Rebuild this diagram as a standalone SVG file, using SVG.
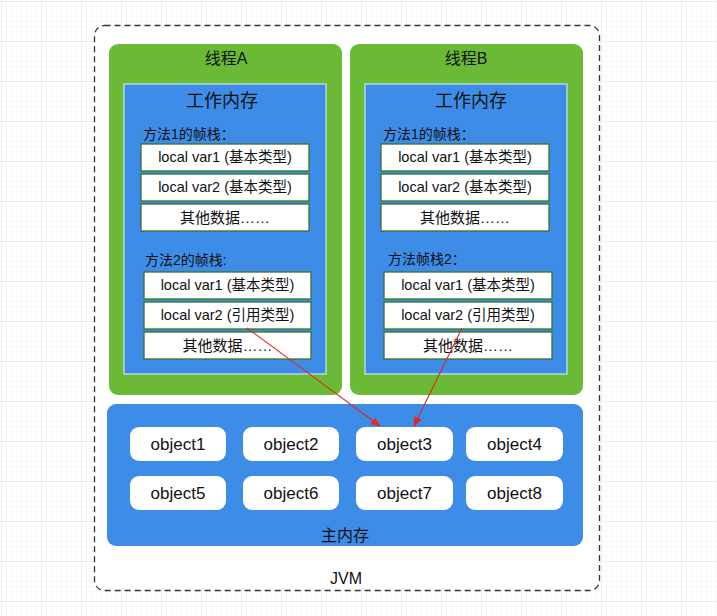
<svg xmlns="http://www.w3.org/2000/svg" width="717" height="616" viewBox="0 0 717 616">
<defs>
<pattern id="gminor" width="5" height="5" patternUnits="userSpaceOnUse">
<path d="M5 0V5M0 5H5" fill="none" stroke="#ececec" stroke-width="0.6"/>
</pattern>
<pattern id="gmajor" x="2" y="2" width="40" height="40" patternUnits="userSpaceOnUse">
<rect width="40" height="40" fill="url(#gminor)"/>
<path d="M40 0V40M0 40H40" fill="none" stroke="#dcdcdc" stroke-width="0.8"/>
</pattern>
<marker id="ah" markerWidth="10" markerHeight="10" refX="9" refY="5" orient="auto" markerUnits="userSpaceOnUse">
<path d="M0 1L10 5L0 9Z" fill="#e8261f"/>
</marker>
<style>
.cn{font-family:"Liberation Sans","Noto Sans CJK SC",sans-serif;fill:#111}
.green{fill:#6bba35}
.blue{fill:#3d8de8}
.wm{fill:#3d8de8;stroke:#cfe3f5;stroke-width:1.2}
.cell{fill:#fff;stroke:#3a7225;stroke-width:1.3}
.obj{fill:#fff}
.t16{font-size:16px;text-anchor:middle}
.t18{font-size:18px;text-anchor:middle}
.t13{font-size:14px}
.t14{font-size:14.5px;text-anchor:middle}
.t15{font-size:15px;text-anchor:middle}
.t17{font-size:17px;text-anchor:middle}
.conn{stroke:#e8261f;stroke-width:1.1;fill:none;marker-end:url(#ah)}
</style>
</defs>
<rect width="717" height="616" fill="#fff"/>
<rect width="717" height="616" fill="url(#gmajor)"/>
<g id="jvm">
<rect x="94.5" y="25.5" width="505" height="565" rx="10" fill="#fff" stroke="#333" stroke-width="1.3" stroke-dasharray="6 4"/>
<text class="cn t16" x="346" y="584">JVM</text>
</g>
<g id="threadA">
<rect class="green" x="109" y="44" width="233" height="351" rx="9"/>
<text class="cn t16" x="226" y="64">线程A</text>
<rect class="wm" x="124" y="84" width="202" height="290"/>
<text class="cn t18" x="222" y="107">工作内存</text>
<text class="cn t13" x="143" y="139">方法1的帧栈：</text>
<rect class="cell" x="141" y="144" width="168" height="27"/>
<text class="cn t14" x="225" y="162">local var1 (基本类型)</text>
<rect class="cell" x="141" y="174" width="168" height="27"/>
<text class="cn t14" x="225" y="192">local var2 (基本类型)</text>
<rect class="cell" x="141" y="204" width="168" height="27"/>
<text class="cn t15" x="225" y="223">其他数据……</text>
<text class="cn t13" x="145" y="265">方法2的帧栈:</text>
<rect class="cell" x="144" y="272" width="167" height="27"/>
<text class="cn t14" x="227.5" y="290">local var1 (基本类型)</text>
<rect class="cell" x="144" y="302" width="167" height="27"/>
<text class="cn t14" x="227.5" y="320">local var2 (引用类型)</text>
<rect class="cell" x="144" y="332" width="167" height="27"/>
<text class="cn t15" x="227.5" y="351">其他数据……</text>
</g>
<g id="threadB">
<rect class="green" x="350" y="44" width="233" height="351" rx="9"/>
<text class="cn t16" x="466" y="64">线程B</text>
<rect class="wm" x="365" y="84" width="202" height="290"/>
<text class="cn t18" x="471" y="107">工作内存</text>
<text class="cn t13" x="383" y="139">方法1的帧栈：</text>
<rect class="cell" x="381" y="144" width="168" height="27"/>
<text class="cn t14" x="465" y="162">local var1 (基本类型)</text>
<rect class="cell" x="381" y="174" width="168" height="27"/>
<text class="cn t14" x="465" y="192">local var2 (基本类型)</text>
<rect class="cell" x="381" y="204" width="168" height="27"/>
<text class="cn t15" x="465" y="223">其他数据……</text>
<text class="cn t13" x="388" y="264">方法帧栈2：</text>
<rect class="cell" x="384" y="272" width="168" height="27"/>
<text class="cn t14" x="468" y="290">local var1 (基本类型)</text>
<rect class="cell" x="384" y="302" width="168" height="27"/>
<text class="cn t14" x="468" y="320">local var2 (引用类型)</text>
<rect class="cell" x="384" y="332" width="168" height="27"/>
<text class="cn t15" x="468" y="351">其他数据……</text>
</g>
<g id="mainMemory">
<rect class="blue" x="107" y="404" width="476" height="142" rx="9"/>
<text class="cn t16" x="345" y="541">主内存</text>
</g>
<g id="object1"><rect class="obj" x="130" y="427" width="96" height="34" rx="9"/><text class="cn t17" x="178" y="450">object1</text></g>
<g id="object2"><rect class="obj" x="243" y="427" width="96" height="34" rx="9"/><text class="cn t17" x="291" y="450">object2</text></g>
<g id="object3"><rect class="obj" x="356" y="427" width="97" height="34" rx="9"/><text class="cn t17" x="404.5" y="450">object3</text></g>
<g id="object4"><rect class="obj" x="466" y="427" width="97" height="34" rx="9"/><text class="cn t17" x="514.5" y="450">object4</text></g>
<g id="object5"><rect class="obj" x="130" y="476" width="96" height="34" rx="9"/><text class="cn t17" x="178" y="499">object5</text></g>
<g id="object6"><rect class="obj" x="243" y="476" width="96" height="34" rx="9"/><text class="cn t17" x="291" y="499">object6</text></g>
<g id="object7"><rect class="obj" x="356" y="476" width="97" height="34" rx="9"/><text class="cn t17" x="404.5" y="499">object7</text></g>
<g id="object8"><rect class="obj" x="466" y="476" width="97" height="34" rx="9"/><text class="cn t17" x="514.5" y="499">object8</text></g>
<g id="connectors">
<path class="conn" d="M247 328L380 426"/>
<path class="conn" d="M462 328L414 426"/>
</g>
</svg>
